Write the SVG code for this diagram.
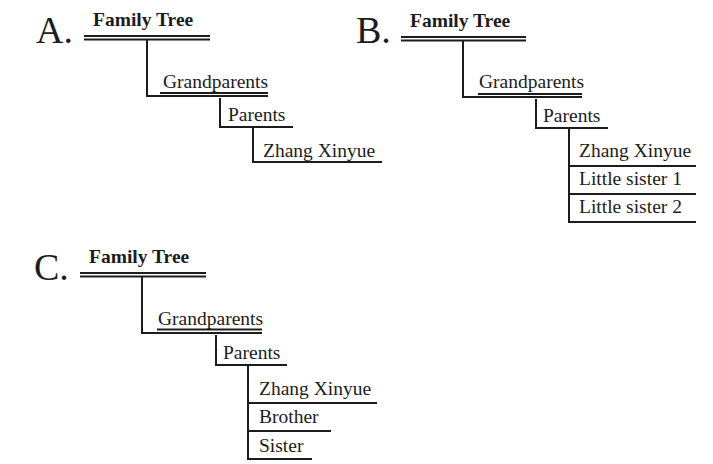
<svg xmlns="http://www.w3.org/2000/svg" width="713" height="464" viewBox="0 0 713 464">
<style>
text{font-family:"Liberation Serif","Times New Roman",serif;fill:#1c1c1c}
.lbl{font-size:38px}
.title{font-size:19.5px;font-weight:bold}
.t{font-size:19.5px}
.ln{stroke:#1c1c1c;stroke-width:2;fill:none}
</style>
<rect width="713" height="464" fill="#ffffff"/>
<!-- A -->
<g id="labelA"><text class="lbl" x="36" y="43">A.</text></g>
<g id="A-root"><text class="title" x="93" y="26">Family Tree</text></g>
<g id="A-grandparents"><text class="t" x="163" y="88">Grandparents</text></g>
<g id="A-parents"><text class="t" x="228" y="121">Parents</text></g>
<g id="A-zhang"><text class="t" x="263" y="157">Zhang Xinyue</text></g>
<!-- B -->
<g id="labelB"><text class="lbl" x="356" y="43">B.</text></g>
<g id="B-root"><text class="title" x="410" y="27">Family Tree</text></g>
<g id="B-grandparents"><text class="t" x="479" y="88">Grandparents</text></g>
<g id="B-parents"><text class="t" x="543" y="122">Parents</text></g>
<g id="B-zhang"><text class="t" x="579" y="157">Zhang Xinyue</text></g>
<g id="B-sister1"><text class="t" x="579" y="185">Little sister 1</text></g>
<g id="B-sister2"><text class="t" x="579" y="213">Little sister 2</text></g>
<!-- C -->
<g id="labelC"><text class="lbl" x="34" y="280">C.</text></g>
<g id="C-root"><text class="title" x="89" y="263">Family Tree</text></g>
<g id="C-grandparents"><text class="t" x="158" y="325">Grandparents</text></g>
<g id="C-parents"><text class="t" x="223" y="359">Parents</text></g>
<g id="C-zhang"><text class="t" x="259" y="395">Zhang Xinyue</text></g>
<g id="C-brother"><text class="t" x="259" y="423">Brother</text></g>
<g id="C-sister"><text class="t" x="259" y="452">Sister</text></g>
<g id="connectors" class="ln">
<!-- A -->
<path d="M84 36H210M84 39.5H210"/>
<path d="M147 39.5V96H268M160 93H268"/>
<path d="M220 98V127H293"/>
<path d="M253 127V162H382"/>
<!-- B -->
<path d="M401 37H526M401 40.5H526"/>
<path d="M463 40.5V97H582M478 94H582"/>
<path d="M536 99V128H608"/>
<path d="M569 128V222H696M569 166H696M569 194H696"/>
<!-- C -->
<path d="M80 273H206M80 276.5H206"/>
<path d="M142 276.5V333H262M157 329.5H262"/>
<path d="M216 335V365H287"/>
<path d="M248 365V459H312M248 403H377M248 431H331"/>
</g>
</svg>
